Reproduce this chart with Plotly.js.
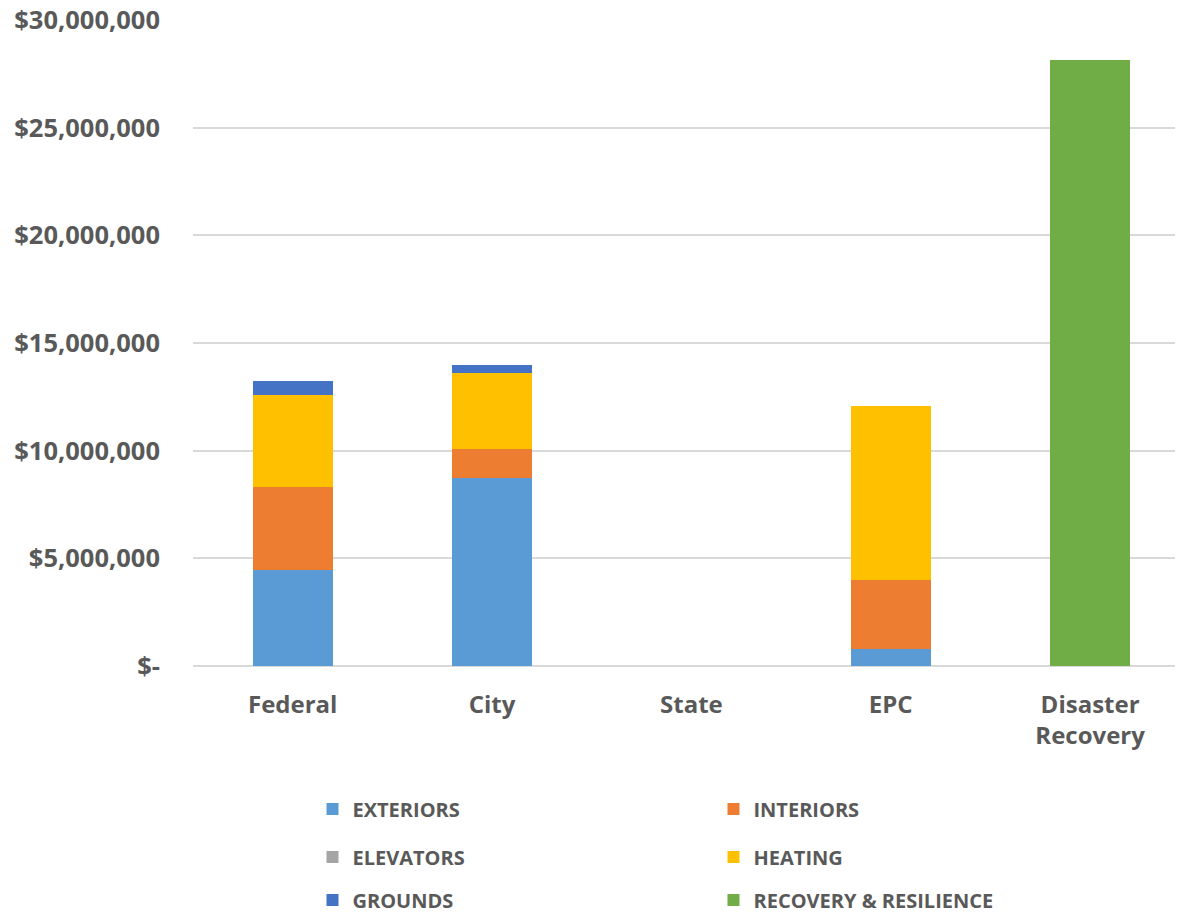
<!DOCTYPE html>
<html>
<head>
<meta charset="utf-8">
<script src="https://cdn.plot.ly/plotly-3.0.1.min.js"></script>
<style>
  html, body { margin: 0; padding: 0; background: #ffffff; }
  #chart { width: 1177px; height: 917px; }
</style>
</head>
<body>
<div id="chart"></div>
<script>
const categories = ['Federal', 'City', 'State', 'EPC', 'Disaster<br>Recovery'];
const exteriors  = [4440000, 8720000, 0, 780000, 0];
const interiors  = [3860000, 1360000, 0, 3200000, 0];
const elevators  = [0, 0, 0, 0, 0];
const heating    = [4290000, 3540000, 0, 8100000, 0];
const grounds    = [650000, 350000, 0, 0, 0];
const recovery   = [0, 0, 0, 0, 28150000];

const tickVals   = [0, 5000000, 10000000, 15000000, 20000000, 25000000, 30000000];
const tickLabels = ['$-', '$5,000,000', '$10,000,000', '$15,000,000', '$20,000,000', '$25,000,000', '$30,000,000'];

const xIdx = categories.map((c, i) => i);
const legendFont = { family: '"Open Sans", sans-serif', size: 20, color: '#595959', weight: 'bold' };

function mk(name, vals, color, legend) {
  return {
    type: 'bar', name: name, x: xIdx, y: vals,
    marker: { color: color, line: { width: 0 } },
    legend: legend, hoverinfo: 'skip'
  };
}

const data = [
  mk('EXTERIORS', exteriors, '#5B9BD5', 'legend'),
  mk('INTERIORS', interiors, '#ED7D31', 'legend'),
  mk('ELEVATORS', elevators, '#A5A5A5', 'legend2'),
  mk('HEATING', heating, '#FFC000', 'legend2'),
  mk('GROUNDS', grounds, '#4472C4', 'legend3'),
  mk('RECOVERY &amp; RESILIENCE', recovery, '#70AD47', 'legend3')
];

function leg(y) {
  return {
    orientation: 'h', xref: 'container', yref: 'container',
    x: 0.2655, y: y, xanchor: 'left', yanchor: 'middle',
    entrywidth: 356, entrywidthmode: 'pixels',
    font: legendFont, traceorder: 'normal', itemclick: false, itemdoubleclick: false,
    bgcolor: 'rgba(0,0,0,0)', borderwidth: 0
  };
}

const layout = {
  width: 1177, height: 917,
  margin: { l: 193, r: 2, t: 20, b: 251 },
  paper_bgcolor: '#ffffff', plot_bgcolor: '#ffffff',
  barmode: 'stack', bargap: 0.6,
  showlegend: true,
  legend: leg(1 - 809 / 917),
  legend2: leg(1 - 857 / 917),
  legend3: leg(1 - 900 / 917),
  xaxis: {
    range: [-0.5, 4.426], tickmode: 'array', tickvals: xIdx, ticktext: categories,
    showgrid: false, zeroline: false, showline: false, ticks: '',
    ticklabelstandoff: 22,
    tickfont: { family: '"Open Sans", sans-serif', size: 24, color: '#595959', weight: 'bold' }
  },
  yaxis: {
    range: [0, 30000000], tickmode: 'array', tickvals: tickVals, ticktext: tickLabels,
    showgrid: true, gridcolor: '#d9d9d9', gridwidth: 2,
    zeroline: true, zerolinecolor: '#d9d9d9', zerolinewidth: 2,
    showline: false, ticks: '', ticklabelstandoff: 32,
    tickfont: { family: '"Open Sans", sans-serif', size: 25.5, color: '#595959', weight: 'bold' }
  }
};

Plotly.newPlot('chart', data, layout, { displayModeBar: false, staticPlot: true });
</script>
</body>
</html>
